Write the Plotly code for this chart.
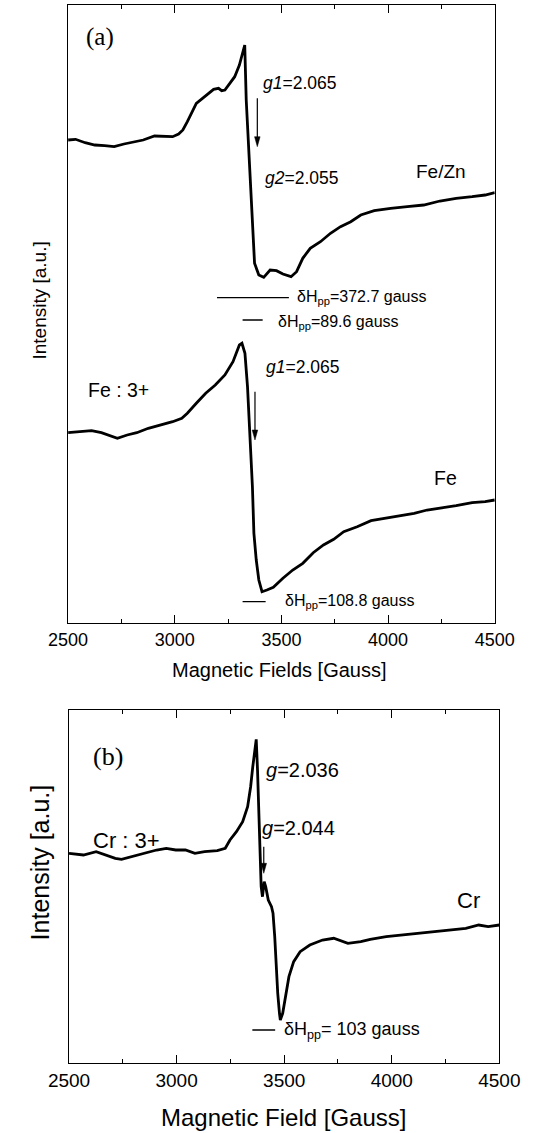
import plotly.graph_objects as go

W, H = 536, 1133

# ---------------- data ----------------
# Panel (a) upper trace: Fe/Zn
fezn_field = [2500, 2535, 2580, 2625, 2671, 2716, 2762, 2807, 2852, 2905, 2948, 2990,
              3018, 3038, 3059, 3080, 3101, 3130, 3160, 3182, 3205, 3220, 3235, 3258,
              3281, 3303, 3318, 3328, 3335, 3350, 3364, 3374, 3394, 3417, 3447, 3477,
              3507, 3545, 3571, 3600, 3635, 3683, 3730, 3777, 3825, 3872, 3935, 4012,
              4090, 4167, 4243, 4319, 4394, 4455, 4500]
fezn_int = [482.7, 483.4, 480.0, 477.7, 477.0, 476.0, 478.7, 481.0, 482.7, 486.7, 486.0, 486.0,
            488.7, 492.7, 501.0, 511.0, 519.4, 524.4, 529.4, 533.4, 534.4, 532.0, 532.7, 539.4,
            546.0, 557.7, 569.4, 577.7, 522.7, 456.0, 389.4, 359.4, 347.7, 345.4, 352.7, 352.0,
            348.7, 346.0, 351.0, 364.4, 374.4, 381.0, 389.4, 396.0, 401.0, 407.7, 412.0, 414.4,
            416.0, 417.7, 421.7, 424.4, 426.0, 427.7, 430.0]

# Panel (a) lower trace: Fe
fe_field = [2500, 2550, 2610, 2656, 2701, 2731, 2777, 2822, 2876, 2933, 2990, 3033,
            3059, 3101, 3145, 3190, 3235, 3273, 3303, 3315, 3329, 3341, 3352, 3364,
            3371, 3382, 3394, 3409, 3432, 3462, 3507, 3553, 3600, 3649, 3697, 3745,
            3792, 3855, 3920, 3982, 4060, 4122, 4183, 4243, 4319, 4394, 4455, 4500]
fe_int = [190.0, 191.0, 192.0, 190.0, 186.7, 184.4, 187.7, 190.0, 194.4, 197.7, 201.0, 204.4,
          209.4, 219.4, 229.4, 237.7, 247.7, 261.0, 277.7, 279.4, 269.4, 236.0, 189.4, 136.0,
          89.4, 62.7, 42.7, 31.0, 32.7, 35.4, 44.4, 52.7, 59.4, 70.0, 77.7, 83.4,
          91.0, 96.0, 102.0, 104.4, 107.7, 109.4, 112.7, 114.4, 117.0, 120.0, 121.0, 122.7]

# Panel (b): Cr
cr_field = [2500, 2567, 2626, 2670, 2715, 2744, 2789, 2848, 2907, 2952, 2996, 3041,
            3085, 3130, 3189, 3226, 3248, 3278, 3307, 3330, 3344, 3354, 3364, 3370,
            3376, 3381, 3387, 3393, 3399, 3407, 3414, 3426, 3441, 3448, 3456, 3463,
            3470, 3478, 3482, 3493, 3507, 3522, 3544, 3574, 3619, 3678, 3730, 3752,
            3796, 3856, 3900, 3974, 4048, 4122, 4196, 4270, 4344, 4404, 4448, 4500]
cr_int = [210.0, 208.3, 211.6, 208.3, 205.0, 204.0, 206.6, 210.0, 213.3, 215.0, 213.3, 213.3,
          210.0, 211.6, 212.6, 215.0, 223.3, 231.6, 241.6, 256.6, 276.6, 296.6, 316.6, 324.0,
          293.3, 253.3, 210.0, 176.6, 166.6, 181.6, 176.6, 163.3, 156.6, 150.0, 126.6, 96.6,
          70.0, 50.0, 43.3, 50.0, 70.0, 86.6, 101.6, 111.6, 118.3, 123.3, 125.0, 123.3,
          120.0, 121.6, 124.0, 126.6, 128.3, 130.6, 131.6, 133.3, 135.0, 138.3, 136.6, 138.3]

tick_vals = [2500, 3000, 3500, 4000, 4500]
tick_text = ["2500", "3000", "3500", "4000", "4500"]

# peak-to-peak width markers: (start field, end field, level)
dhpp_a = [(3198, 3535, 325.0), (3318, 3412, 302.7), (3318, 3426, 21.0)]
dhpp_b = [(3352, 3458, 33.3)]

# ---------------- layout geometry (pixels) ----------------
def px(x):
    return x / W

def py(y):
    return 1 - y / H

A_L, A_R, A_T, A_B = 51, 513, 5, 622.7
B_L, B_R, B_T, B_B = 52, 518, 710, 1063.3

FONT = "Liberation Sans, Arial, sans-serif"
SERIF = "Liberation Serif, Times New Roman, serif"

fig = go.Figure()
line_style = dict(color="black", width=2.8)
fig.add_trace(go.Scatter(x=fezn_field, y=fezn_int, mode="lines", line=line_style,
                         xaxis="x", yaxis="y", name="Fe/Zn"))
fig.add_trace(go.Scatter(x=fe_field, y=fe_int, mode="lines", line=line_style,
                         xaxis="x", yaxis="y", name="Fe"))
fig.add_trace(go.Scatter(x=cr_field, y=cr_int, mode="lines", line=line_style,
                         xaxis="x2", yaxis="y2", name="Cr"))

def xaxis_cfg(dom, anchor, fs):
    return dict(domain=dom, anchor=anchor, range=[2500, 4500],
                tickvals=tick_vals, ticktext=tick_text,
                ticks="inside", ticklen=8, tickwidth=1.3, tickcolor="black",
                minor=dict(dtick=250, tick0=2500, ticks="inside", ticklen=4,
                           tickwidth=1.2, tickcolor="black"),
                mirror="allticks", showline=True, linecolor="black", linewidth=1.4,
                showgrid=False, zeroline=False,
                tickfont=dict(family=FONT, size=fs, color="black"))

def yaxis_cfg(dom, anchor, rng):
    return dict(domain=dom, anchor=anchor, range=rng, showticklabels=False,
                ticks="", showline=True, mirror=True, linecolor="black",
                linewidth=1.4, showgrid=False, zeroline=False)

fig.update_layout(
    width=W, height=H, margin=dict(l=0, r=0, t=0, b=0),
    paper_bgcolor="white", plot_bgcolor="white", showlegend=False,
    xaxis=xaxis_cfg([px(A_L), px(A_R)], "y", 18),
    yaxis=yaxis_cfg([py(A_B), py(A_T)], "x", [0, A_B - A_T]),
    xaxis2=xaxis_cfg([px(B_L), px(B_R)], "y2", 19),
    yaxis2=yaxis_cfg([py(B_B), py(B_T)], "x2", [0, B_B - B_T]),
)

ann = []
def txt(x, y, s, size=16, xref="x", yref="y", xanchor="left", family=FONT, angle=0):
    ann.append(dict(x=x, y=y, xref=xref, yref=yref, text=s, showarrow=False,
                    xanchor=xanchor, yanchor="middle", textangle=angle,
                    font=dict(family=family, size=size, color="black")))

shapes = []
def arrow(x, y_tail, y_head, xr="x", yr="y", hw=13, hl=10):
    shapes.append(dict(type="line", xref=xr, yref=yr, x0=x, x1=x, y0=y_tail, y1=y_head + 4,
                       line=dict(color="black", width=1.2)))
    shapes.append(dict(type="path", xref=xr, yref=yr,
                       path=f"M {x - hw},{y_head + hl} L {x + hw},{y_head + hl} L {x},{y_head} Z",
                       fillcolor="black", line=dict(color="black", width=0.5)))

# panel (a)
txt(2650, 586, "(a)", size=25, xanchor="center", family=SERIF)
txt(3405, 540, "<i>g1</i>=2.065", size=17.5)
arrow(3387, 524.4, 476)
txt(3414, 444.4, "<i>g2</i>=2.055", size=17.5)
txt(4120, 451, "Fe/Zn", size=19)
txt(3562, 325, "δH<sub>pp</sub>=372.7 gauss", size=16)
txt(3475, 300, "δH<sub>pp</sub>=89.6 gauss", size=16)
txt(3416, 256, "<i>g1</i>=2.065", size=17.5)
arrow(3376, 231, 182.7)
txt(2585, 232.7, "Fe : 3+", size=19.5)
txt(4206, 144.4, "Fe", size=19.5)
txt(3506, 21, "δH<sub>pp</sub>=108.8 gauss", size=16)

# panel (b)
txt(2680, 306.7, "(b)", size=26, xanchor="center", family=SERIF, xref="x2", yref="y2")
txt(3404, 293.3, "<i>g</i>=2.036", size=20, xref="x2", yref="y2")
txt(3387, 235, "<i>g</i>=2.044", size=20, xref="x2", yref="y2")
arrow(3405, 216.6, 190, "x2", "y2")
txt(2600, 223.3, "Cr : 3+", size=22, xref="x2", yref="y2")
txt(4293, 163.3, "Cr", size=22, xref="x2", yref="y2")
txt(3490, 33.3, "δH<sub>pp</sub>= 103 gauss", size=18, xref="x2", yref="y2")

# axis titles
txt(px(280), py(670), "Magnetic Fields [Gauss]", size=20, xref="paper", yref="paper", xanchor="center")
txt(px(284), py(1117), "Magnetic Field [Gauss]", size=24, xref="paper", yref="paper", xanchor="center")
txt(px(19), py(301), "Intensity [a.u.]", size=19, xref="paper", yref="paper", xanchor="center", angle=-90)
txt(px(21), py(862), "Intensity [a.u.]", size=25, xref="paper", yref="paper", xanchor="center", angle=-90)

fig.update_layout(annotations=ann)

for x0, x1, lv in dhpp_a:
    shapes.append(dict(type="line", xref="x", yref="y", x0=x0, x1=x1, y0=lv, y1=lv,
                       line=dict(color="black", width=1.3)))
for x0, x1, lv in dhpp_b:
    shapes.append(dict(type="line", xref="x2", yref="y2", x0=x0, x1=x1, y0=lv, y1=lv,
                       line=dict(color="black", width=1.6)))
fig.update_layout(shapes=shapes)

fig.write_html("out.html")
